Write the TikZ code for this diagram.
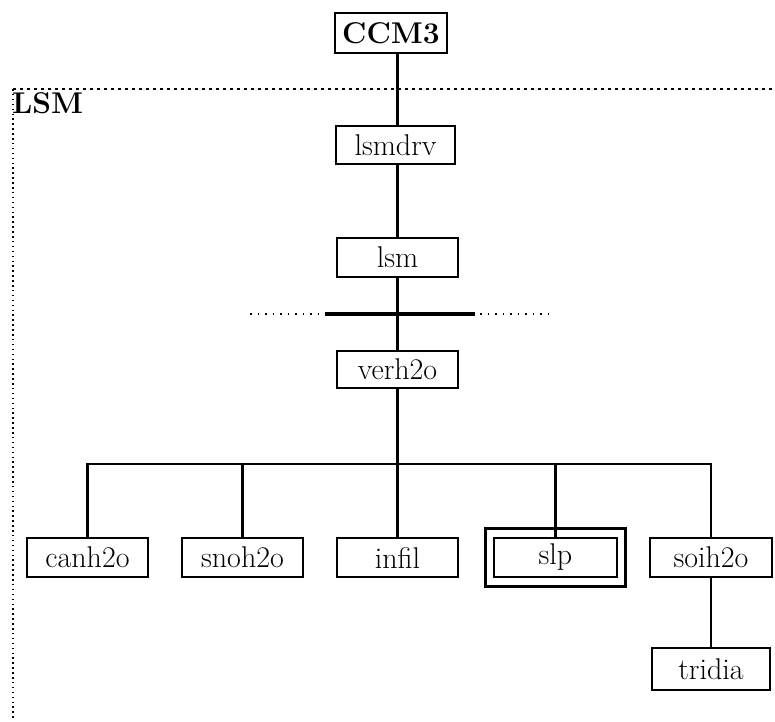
\documentclass[tikz,border=0pt]{standalone}
\usepackage{fontspec}
\setmainfont{Latin Modern Roman}
\begin{document}
\begin{tikzpicture}[x=1pt,y=-1pt,
  box/.style={draw,line width=2.6pt,minimum width=121pt,minimum height=39pt,
    inner sep=0pt,font=\fontsize{30}{36}\selectfont},
  wire/.style={line width=2.2pt},
  framedots/.style={line width=2.2pt,dash pattern=on 2.5pt off 4.5pt},
  framedotsv/.style={line width=2.2pt,dash pattern=on 1.5pt off 3.4pt},
  sepdots/.style={line width=2pt,dash pattern=on 1.5pt off 6pt},
  sepbar/.style={line width=4pt}]
\useasboundingbox (0,0) rectangle (775,721);

% spine of the call tree
\coordinate (spine) at (397.5,0);

% LSM region outline
\coordinate (frameTL) at (13,89);
\coordinate (frameTR) at (775,89);
\coordinate (frameBL) at (13,721);
\draw[framedots] (frameTL) -- (frameTR);
\draw[framedotsv] (frameTL) -- (frameBL);
\node[anchor=north west,inner sep=0pt,font=\fontsize{30}{36}\selectfont\bfseries]
  (lsmlabel) at (12,92) {LSM};

% routines
\node[box,minimum width=112pt,minimum height=40pt,
  font=\fontsize{30}{36}\selectfont\bfseries] (ccm) at (391,33) {CCM3};
\node[box,minimum width=119pt,minimum height=38pt] (drv) at (395.5,145) {lsmdrv};
\node[box] (lsm) at (397.5,257.5) {lsm};
\node[box,minimum height=37pt] (verh) at (397.5,369.5) {verh2o};

\node[box] (canh) at (87.5,557.5) {canh2o};
\node[box] (snoh) at (242.5,557.5) {snoh2o};
\node[box] (infil) at (397.5,557.5) {infil};
\node[box,minimum width=123pt] (slp) at (555.5,557.5) {slp};
\node[box,minimum width=122pt] (soih) at (711,557.5) {soih2o};
\node[box,minimum width=118pt,minimum height=42pt] (tri) at (711,669) {tridia};

% double frame around slp
\draw[line width=2.6pt] ([shift={(-7,-8)}]slp.north west) rectangle ([shift={(7,8)}]slp.south east);

% separator between lsm and verh2o
\coordinate (sepA) at (250,314);
\coordinate (sepB) at (321,314);
\coordinate (sepC) at (325,314);
\coordinate (sepD) at (475,314);
\coordinate (sepE) at (480,314);
\coordinate (sepF) at (550,314);
\draw[sepdots] (sepA) -- (sepB);
\draw[sepbar] (sepC) -- (sepD);
\draw[sepdots] (sepE) -- (sepF);

% connectors
\coordinate (bar) at (397.5,464);
\draw[wire] (ccm.south -| spine) -- (drv.north -| spine);
\draw[wire] (drv.south -| spine) -- (lsm.north);
\draw[wire] (lsm.south) -- (verh.north);
\draw[wire] (verh.south) -- (bar);
\draw[wire] (canh.north) -- (canh.north |- bar) -- (soih.north |- bar) -- (soih.north);
\draw[wire] (snoh.north) -- (snoh.north |- bar);
\draw[wire] (infil.north) -- (bar);
\draw[wire] (slp.north) -- (slp.north |- bar);
\draw[wire] (soih.south) -- (tri.north);
\end{tikzpicture}
\end{document}
